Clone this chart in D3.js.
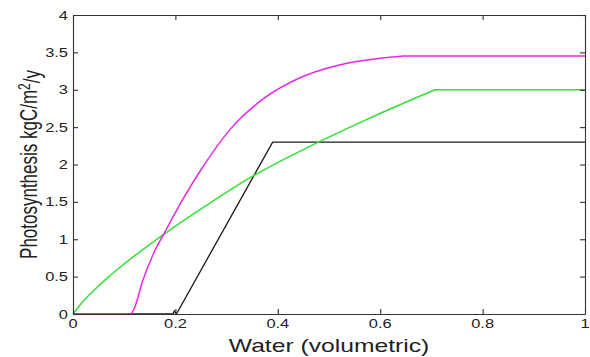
<!DOCTYPE html>
<html>
<head>
<meta charset="utf-8">
<script src="https://d3js.org/d3.v7.min.js"></script>
<style>
body { margin: 0; background: white; }
text { font-family: "Liberation Sans", Arial, sans-serif; fill: #222; }
</style>
</head>
<body>
<div id="dataviz"></div>
<script>
// values
var xTicks = [0, 0.2, 0.4, 0.6, 0.8, 1];
var yTicks = [0, 0.5, 1, 1.5, 2, 2.5, 3, 3.5, 4];
var xTickLabels = ["0", "0.2", "0.4", "0.6", "0.8", "1"];
var yTickLabels = ["0", "0.5", "1", "1.5", "2", "2.5", "3", "3.5", "4"];

var magentaX = [0, 0.114, 0.12, 0.137, 0.156, 0.179, 0.215, 0.25, 0.307, 0.372, 0.437, 0.52, 0.60, 0.645, 1.0];
var magentaY = [0, 0, 0.08, 0.46, 0.79, 1.09, 1.54, 1.93, 2.47, 2.88, 3.14, 3.33, 3.42, 3.45, 3.45];
var magentaKinks = [0.114, 0.645];

var greenX = [0, 0.02, 0.04, 0.07, 0.1, 0.18, 0.26, 0.35, 0.45, 0.57, 0.707, 1.0];
var greenY = [0, 0.17, 0.31, 0.5, 0.67, 1.08, 1.45, 1.84, 2.2, 2.59, 3.0, 3.0];
var greenKinks = [0.707];

var blackX = [0, 0.195, 0.198, 0.202, 0.39, 1.0];
var blackY = [0, 0, 0.04, 0, 2.3, 2.3];

// the picture is stretched sideways, so text is too
var sx = 1.37;

var svg = d3.select("#dataviz")
  .append("svg")
  .attr("width", 590)
  .attr("height", 357);

// plot box (note: "top" is reserved on window)
var boxLeft = 73, boxRight = 585, boxTop = 15, boxBottom = 314;

var xscale = d3.scaleLinear().domain([0, 1]).range([boxLeft, boxRight]);
var yscale = d3.scaleLinear().domain([0, 4]).range([boxBottom, boxTop]);

var line = d3.line()
  .x(function(d){ return xscale(d[0]); })
  .y(function(d){ return yscale(d[1]); });

var smooth = d3.line()
  .curve(d3.curveMonotoneX)
  .x(function(d){ return xscale(d[0]); })
  .y(function(d){ return yscale(d[1]); });

function zip(xs, ys){ return xs.map(function(x, i){ return [x, ys[i]]; }); }

// smooth between kinks, so the corners stay sharp
function kinked(xs, ys, kinks){
  var pts = zip(xs, ys);
  var cuts = [xs[0]].concat(kinks, [xs[xs.length - 1]]);
  var d = "";
  for (var i = 0; i < cuts.length - 1; i++) {
    var seg = pts.filter(function(p){ return p[0] >= cuts[i] && p[0] <= cuts[i + 1]; });
    var s = seg.length > 2 ? smooth(seg) : line(seg);
    d += (i == 0 ? s : "L" + s.slice(1));
  }
  return d;
}

// curves
svg.append("path")
  .attr("d", line(zip(blackX, blackY)))
  .attr("fill", "none").attr("stroke", "#1a1a1a").attr("stroke-width", 1.3);

svg.append("path")
  .attr("d", kinked(greenX, greenY, greenKinks))
  .attr("fill", "none").attr("stroke", "#33e033").attr("stroke-width", 1.5);

svg.append("path")
  .attr("d", kinked(magentaX, magentaY, magentaKinks))
  .attr("fill", "none").attr("stroke", "#e628e6").attr("stroke-width", 1.5);

// box with inward ticks on all four sides
var tick = 5;
svg.append("g").attr("transform", "translate(0," + boxBottom + ")")
  .call(d3.axisTop(xscale).tickValues(xTicks).tickSize(tick).tickSizeOuter(0).tickFormat(""));
svg.append("g").attr("transform", "translate(0," + boxTop + ")")
  .call(d3.axisBottom(xscale).tickValues(xTicks).tickSize(tick).tickSizeOuter(0).tickFormat(""));
svg.append("g").attr("transform", "translate(" + boxLeft + ",0)")
  .call(d3.axisRight(yscale).tickValues(yTicks).tickSize(tick).tickSizeOuter(0).tickFormat(""));
svg.append("g").attr("transform", "translate(" + boxRight + ",0)")
  .call(d3.axisLeft(yscale).tickValues(yTicks).tickSize(tick).tickSizeOuter(0).tickFormat(""));

svg.selectAll(".domain, .tick line")
  .attr("stroke", "#333").attr("stroke-width", 1.1);

// tick labels
svg.selectAll(".xlab").data(xTicks).enter()
  .append("text")
  .attr("class", "xlab")
  .attr("transform", function(d){ return "translate(" + xscale(d) + ",328) scale(" + sx + ",1)"; })
  .style("font-size", "12px")
  .style("text-anchor", "middle")
  .text(function(d, i){ return xTickLabels[i]; });

svg.selectAll(".ylab").data(yTicks).enter()
  .append("text")
  .attr("class", "ylab")
  .attr("transform", function(d){ return "translate(68," + (yscale(d) + 4.5) + ") scale(" + sx + ",1)"; })
  .style("font-size", "12px")
  .style("text-anchor", "end")
  .text(function(d, i){ return yTickLabels[i]; });

// axis titles
svg.append("text")
  .attr("transform", "translate(" + ((boxLeft + boxRight) / 2) + ",352) scale(" + sx + ",1)")
  .style("font-size", "18px")
  .style("text-anchor", "middle")
  .text("Water (volumetric)");

var ytitle = svg.append("text")
  .attr("transform", "translate(37," + ((boxTop + boxBottom) / 2) + ") scale(" + sx + ",1) rotate(-90)")
  .style("font-size", "17px")
  .style("text-anchor", "middle");
ytitle.append("tspan").text("Photosynthesis kgC/m");
ytitle.append("tspan").attr("dy", "-0.45em").style("font-size", "12px").text("2");
ytitle.append("tspan").attr("dy", "0.45em").text("/y");
</script>
</body>
</html>
